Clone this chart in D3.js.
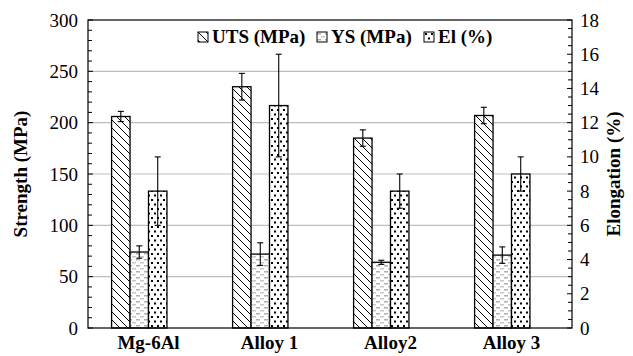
<!DOCTYPE html>
<html>
<head>
<meta charset="utf-8">
<script src="https://cdn.jsdelivr.net/npm/d3@7"></script>
<style>
  html, body { margin: 0; padding: 0; background: #fff; }
  text { font-family: 'Liberation Serif', 'Times New Roman', Tinos, Times !important; }
</style>
</head>
<body>
<svg id="chart" width="633" height="356"></svg>
<script>
// Alloy tensile properties
const categories = ["Mg-6Al", "Alloy 1", "Alloy2", "Alloy 3"];
const seriesNames = ["UTS (MPa)", "YS (MPa)", "El (%)"];
const utsValues = [206, 235, 185, 207];
const utsErrors = [5, 13, 8, 8];
const ysValues = [74, 72, 64, 71];
const ysErrors = [6, 11, 2, 8];
const elValues = [8, 13, 8, 9];
const elErrors = [2, 3, 1, 1];
const strengthTicks = [0, 50, 100, 150, 200, 250, 300];
const elongationTicks = [0, 2, 4, 6, 8, 10, 12, 14, 16, 18];

const svg = d3.select("#chart");
const m = { left: 88, right: 572, top: 20, bottom: 328 };

const x = d3.scaleBand().domain(categories).range([m.left, m.right])
  .paddingInner(0.39).paddingOuter(0.195);
// four slots per cluster; the last one stays empty
const xs = d3.scaleBand().domain([...seriesNames, "_"]).range([0, x.bandwidth()]);
const yL = d3.scaleLinear().domain([0, 300]).range([m.bottom, m.top]);
const yR = d3.scaleLinear().domain([0, 18]).range([m.bottom, m.top]);

// fill patterns
const defs = svg.append("defs");
const pU = defs.append("pattern").attr("id", "pUTS").attr("patternUnits", "userSpaceOnUse")
  .attr("width", 8).attr("height", 8);
pU.append("rect").attr("width", 8).attr("height", 8).attr("fill", "#fff");
pU.append("path").attr("d", "M-2,-2 L10,10 M-2,6 L2,10 M6,-2 L10,2")
  .attr("stroke", "#000").attr("stroke-width", 1);

const pY = defs.append("pattern").attr("id", "pYS").attr("patternUnits", "userSpaceOnUse")
  .attr("width", 8).attr("height", 6);
pY.append("rect").attr("width", 8).attr("height", 6).attr("fill", "#fff");
pY.append("rect").attr("x", 0).attr("y", 1).attr("width", 4).attr("height", 1.5).attr("fill", "#b0b0b0");
pY.append("rect").attr("x", 4).attr("y", 4).attr("width", 4).attr("height", 1.5).attr("fill", "#c8c8c8");

const pE = defs.append("pattern").attr("id", "pEL").attr("patternUnits", "userSpaceOnUse")
  .attr("width", 6).attr("height", 9);
pE.append("rect").attr("width", 6).attr("height", 9).attr("fill", "#fff");
pE.append("rect").attr("x", 1).attr("y", 1).attr("width", 2).attr("height", 2).attr("fill", "#000");
pE.append("rect").attr("x", 4).attr("y", 5.5).attr("width", 2).attr("height", 2).attr("fill", "#000");

const fills = { "UTS (MPa)": "url(#pUTS)", "YS (MPa)": "url(#pYS)", "El (%)": "url(#pEL)" };

// gridlines
svg.append("g").selectAll("line").data(strengthTicks.filter(t => t > 0 && t < 300)).join("line")
  .attr("x1", m.left).attr("x2", m.right)
  .attr("y1", d => yL(d)).attr("y2", d => yL(d))
  .attr("stroke", "#bdbdbd").attr("stroke-width", 1.2);

// bars
const rows = [];
categories.forEach((c, i) => {
  rows.push({ cat: c, s: "UTS (MPa)", v: utsValues[i], e: utsErrors[i], y: yL });
  rows.push({ cat: c, s: "YS (MPa)", v: ysValues[i], e: ysErrors[i], y: yL });
  rows.push({ cat: c, s: "El (%)", v: elValues[i], e: elErrors[i], y: yR });
});

svg.append("g").selectAll("rect").data(rows).join("rect")
  .attr("x", d => x(d.cat) + xs(d.s))
  .attr("y", d => d.y(d.v))
  .attr("width", xs.bandwidth())
  .attr("height", d => m.bottom - d.y(d.v))
  .attr("fill", d => fills[d.s])
  .attr("stroke", "#000").attr("stroke-width", 1.3);

// error bars
const eb = svg.append("g").attr("stroke", "#000").attr("stroke-width", 1.1);
rows.forEach(d => {
  const cx = x(d.cat) + xs(d.s) + xs.bandwidth() / 2;
  const y1 = d.y(d.v + d.e), y0 = d.y(d.v - d.e);
  eb.append("line").attr("x1", cx).attr("x2", cx).attr("y1", y1).attr("y2", y0);
  eb.append("line").attr("x1", cx - 3).attr("x2", cx + 3).attr("y1", y1).attr("y2", y1);
  eb.append("line").attr("x1", cx - 3).attr("x2", cx + 3).attr("y1", y0).attr("y2", y0);
});

// frame
svg.append("rect").attr("x", m.left).attr("y", m.top)
  .attr("width", m.right - m.left).attr("height", m.bottom - m.top)
  .attr("fill", "none").attr("stroke", "#000").attr("stroke-width", 1.2);

// left axis
const axL = svg.append("g").attr("transform", `translate(${m.left},0)`)
  .call(d3.axisLeft(yL).tickValues(strengthTicks).tickSize(0).tickPadding(10));
axL.attr("font-family", "Liberation Serif");
axL.select(".domain").remove();
axL.selectAll("text").attr("font-size", 19).attr("fill", "#000");
svg.append("g").selectAll("line").data(d3.range(0, 301, 10)).join("line")
  .attr("x1", m.left).attr("x2", d => m.left + (d % 50 === 0 ? 5 : 4))
  .attr("y1", d => yL(d)).attr("y2", d => yL(d))
  .attr("stroke", "#000").attr("stroke-width", 1);

// right axis
const axR = svg.append("g").attr("transform", `translate(${m.right},0)`)
  .call(d3.axisRight(yR).tickValues(elongationTicks).tickSize(0).tickPadding(8));
axR.attr("font-family", "Liberation Serif");
axR.select(".domain").remove();
axR.selectAll("text").attr("font-size", 19).attr("fill", "#000");
svg.append("g").selectAll("line").data(d3.range(0, 18.01, 0.5)).join("line")
  .attr("x1", m.right).attr("x2", d => m.right - (d % 2 === 0 ? 5 : 4))
  .attr("y1", d => yR(d)).attr("y2", d => yR(d))
  .attr("stroke", "#000").attr("stroke-width", 1);

// category axis
const axB = svg.append("g").attr("transform", `translate(0,${m.bottom})`)
  .call(d3.axisBottom(x).tickSize(0).tickPadding(8));
axB.attr("font-family", "Liberation Serif");
axB.select(".domain").remove();
axB.selectAll("text").attr("font-size", 19).attr("font-weight", "bold").attr("fill", "#000");

// axis titles
svg.append("text").attr("transform", `translate(27,${(m.top + m.bottom) / 2}) rotate(-90)`)
  .attr("text-anchor", "middle").attr("font-size", 19).attr("font-weight", "bold")
  .text("Strength (MPa)");
svg.append("text").attr("transform", `translate(620,${(m.top + m.bottom) / 2}) rotate(-90)`)
  .attr("text-anchor", "middle").attr("font-size", 19).attr("font-weight", "bold")
  .text("Elongation (%)");

// legend
const legendX = [198, 317, 424];
const lg = svg.append("g");
seriesNames.forEach((s, i) => {
  const g = lg.append("g").attr("transform", `translate(${legendX[i]},32)`);
  g.append("rect").attr("width", 10).attr("height", 10).attr("fill", fills[s])
    .attr("stroke", "#000").attr("stroke-width", 1);
  g.append("text").attr("x", 14).attr("y", 11).attr("font-size", 19).attr("font-weight", "bold")
    .text(s);
});
</script>
</body>
</html>
